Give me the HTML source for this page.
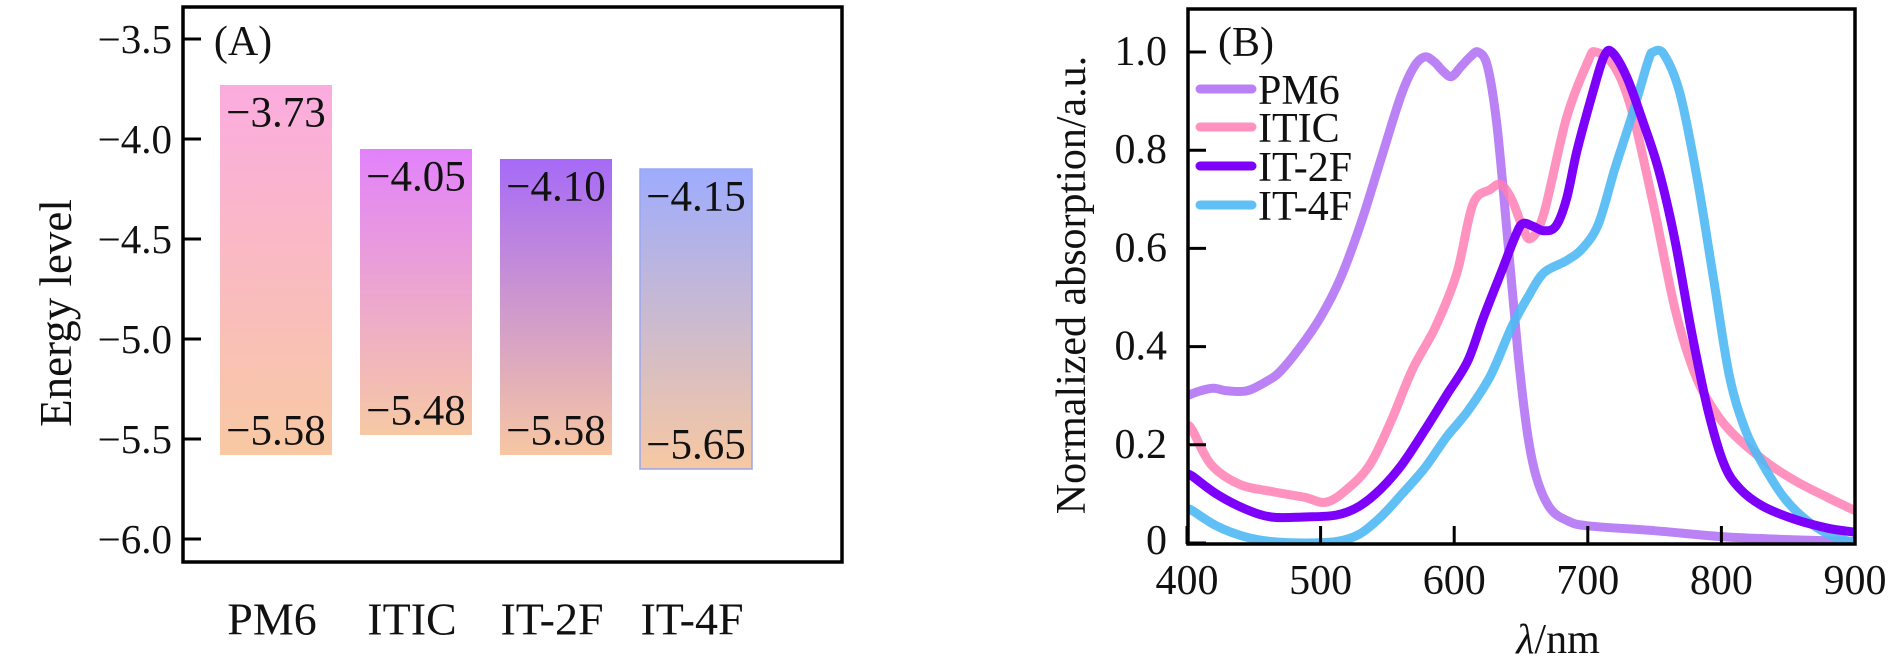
<!DOCTYPE html>
<html><head><meta charset="utf-8">
<style>
html,body{margin:0;padding:0;background:#fff;}
svg{display:block;font-family:"Liberation Serif",serif;}
</style></head>
<body>
<svg id="fig" width="1903" height="671" viewBox="0 0 1903 671" xmlns="http://www.w3.org/2000/svg">
<defs>
<linearGradient id="g0" x1="0" y1="0" x2="0" y2="1"><stop offset="0" stop-color="#fbacdf"/><stop offset="1" stop-color="#f8c9a3"/></linearGradient>
<linearGradient id="g1" x1="0" y1="0" x2="0" y2="1"><stop offset="0" stop-color="#e282fb"/><stop offset="1" stop-color="#f6c9a4"/></linearGradient>
<linearGradient id="g2" x1="0" y1="0" x2="0" y2="1"><stop offset="0" stop-color="#a66af7"/><stop offset="1" stop-color="#f7c7a3"/></linearGradient>
<linearGradient id="g3" x1="0" y1="0" x2="0" y2="1"><stop offset="0" stop-color="#9eacfd"/><stop offset="1" stop-color="#f7c8a2"/></linearGradient>
</defs>
<g id="panelA"></g>
<g id="panelB"></g>
</svg>
<script>
// Panel A data
const categories = ["PM6","ITIC","IT-2F","IT-4F"];
const lumoValues = [-3.73,-4.05,-4.10,-4.15];
const homoValues = [-5.58,-5.48,-5.58,-5.65];
const yTicksA = [-3.5,-4.0,-4.5,-5.0,-5.5,-6.0];
const yTickLabelsA = ["\u22123.5","\u22124.0","\u22124.5","\u22125.0","\u22125.5","\u22126.0"];

// Panel B data
const xTicksB = [400,500,600,700,800,900];
const yTicksB = [0,0.2,0.4,0.6,0.8,1.0];
const yTickLabelsB = ["0","0.2","0.4","0.6","0.8","1.0"];
const seriesNames = ["PM6","ITIC","IT-2F","IT-4F"];
const pm6Wl = [400,410,420,430,445,460,470,485,500,515,530,545,560,570,578,585,592,598,605,612,618,625,632,640,648,655,662,672,685,700,750,800,850,900];
const pm6Abs = [0.30,0.31,0.315,0.31,0.31,0.33,0.35,0.40,0.46,0.54,0.65,0.78,0.91,0.97,0.99,0.98,0.96,0.95,0.97,0.99,1.0,0.97,0.85,0.62,0.38,0.22,0.13,0.07,0.045,0.035,0.025,0.013,0.007,0.003];
const iticWl = [400,404,418,439,463,488,504,520,537,553,569,586,602,614,627,635,643,651,657,667,684,700,706,720,733,749,765,778,790,806,831,855,880,900];
const iticAbs = [0.24,0.23,0.16,0.12,0.105,0.093,0.083,0.11,0.16,0.25,0.355,0.44,0.55,0.69,0.72,0.73,0.70,0.645,0.62,0.67,0.865,0.98,1.0,0.97,0.88,0.69,0.48,0.36,0.29,0.23,0.17,0.127,0.092,0.066];
const it2fWl = [400,404,422,443,463,488,512,529,545,561,578,594,610,622,635,645,651,659,667,676,684,692,704,712,718,729,741,753,765,778,790,802,814,831,855,880,900];
const it2fAbs = [0.14,0.136,0.10,0.07,0.053,0.053,0.057,0.075,0.11,0.16,0.23,0.30,0.37,0.46,0.55,0.62,0.65,0.645,0.636,0.645,0.70,0.80,0.92,0.99,1.0,0.95,0.86,0.76,0.62,0.425,0.27,0.16,0.11,0.075,0.048,0.030,0.022];
const it4fWl = [400,404,422,443,463,488,512,529,545,561,578,594,610,627,643,655,667,684,696,708,720,733,745,749,757,769,782,794,806,818,831,847,863,880,896,900];
const it4fAbs = [0.07,0.066,0.035,0.013,0.003,0.0,0.003,0.018,0.053,0.10,0.153,0.215,0.268,0.34,0.44,0.50,0.55,0.575,0.60,0.65,0.76,0.87,0.98,1.0,0.995,0.915,0.74,0.54,0.34,0.23,0.16,0.092,0.048,0.018,0.003,0.0];

const NS="http://www.w3.org/2000/svg";
function mk(tag, attrs, parent){const e=document.createElementNS(NS,tag);for(const k in attrs)e.setAttribute(k,attrs[k]);parent.appendChild(e);return e;}

// ---------- Panel A ----------
const A = document.getElementById('panelA');
const aL=183,aR=842,aT=7,aB=562;
const yA = v => 39 + (-3.5 - v)*200;
const xA = i => 276 + i*140;
const barW = 112;
const grads=["url(#g0)","url(#g1)","url(#g2)","url(#g3)"];
categories.forEach((c,i)=>{
  const top=yA(lumoValues[i]), bot=yA(homoValues[i]);
  const r=mk('rect',{x:xA(i)-barW/2,y:top,width:barW,height:bot-top,fill:grads[i],stroke:i===3?'#9aa6ef':'none','stroke-width':1.5},A);
  
  
  const t1=mk('text',{x:xA(i),y:top+28,'font-size':43,'text-anchor':'middle','dominant-baseline':'central',fill:'#111'},A);
  t1.textContent='\u2212'+Math.abs(lumoValues[i]).toFixed(2);
  
  
  const t2=mk('text',{x:xA(i),y:bot-24,'font-size':43,'text-anchor':'middle','dominant-baseline':'central',fill:'#111'},A);
  t2.textContent='\u2212'+Math.abs(homoValues[i]).toFixed(2);
  
  
  const cl=mk('text',{x:xA(i)-4,y:619,'font-size':46,'text-anchor':'middle','dominant-baseline':'central',fill:'#111'},A);
  cl.textContent=c;
  
  
});
yTicksA.forEach((v,i)=>{
  const tk=mk('line',{x1:aL,x2:aL+18,y1:yA(v),y2:yA(v),stroke:'#000','stroke-width':3},A);
  
  
  const tl=mk('text',{x:172,y:yA(v),'font-size':41,'text-anchor':'end','dominant-baseline':'central',fill:'#111'},A);
  tl.textContent=yTickLabelsA[i];
  
  
});
const frA=mk('rect',{x:aL,y:aT,width:aR-aL,height:aB-aT,fill:'none',stroke:'#000','stroke-width':3.5},A);


const tA=mk('text',{x:243,y:42,'font-size':42,'text-anchor':'middle','dominant-baseline':'central',fill:'#111'},A);
tA.textContent='(A)';


const ytA=mk('text',{x:0,y:0,'font-size':45,'text-anchor':'middle','dominant-baseline':'central',fill:'#111',transform:'translate(56,313) rotate(-90)'},A);
ytA.textContent='Energy level';



// ---------- Panel B ----------
const B=document.getElementById('panelB');
const bL=1188,bR=1855,bT=9,bB=544;
const xB = v => 1187 + (v-400)*1.336;
const yB = v => 543 - v*491;
const clip=mk('clipPath',{id:'clipB'},B);
mk('rect',{x:bL,y:bT,width:bR-bL,height:bB-bT},clip);
const colors=['#b274f4','#ff7fb4','#7d00fb','#4fb9f4'];
const opac=[0.9,0.85,1,0.9];
const wls=[pm6Wl,iticWl,it2fWl,it4fWl], abss=[pm6Abs,iticAbs,it2fAbs,it4fAbs];
function smoothPath(pts){
  let d='M'+pts[0][0].toFixed(1)+','+pts[0][1].toFixed(1);
  for(let i=0;i<pts.length-1;i++){
    const p0=pts[Math.max(i-1,0)],p1=pts[i],p2=pts[i+1],p3=pts[Math.min(i+2,pts.length-1)];
    const c1x=p1[0]+(p2[0]-p0[0])/6,c1y=p1[1]+(p2[1]-p0[1])/6;
    const c2x=p2[0]-(p3[0]-p1[0])/6,c2y=p2[1]-(p3[1]-p1[1])/6;
    d+=' C'+c1x.toFixed(1)+','+c1y.toFixed(1)+' '+c2x.toFixed(1)+','+c2y.toFixed(1)+' '+p2[0].toFixed(1)+','+p2[1].toFixed(1);
  }
  return d;
}
const lineG=mk('g',{'clip-path':'url(#clipB)'},B);
[0,1,3,2].forEach(s=>{
  const pts=wls[s].map((w,j)=>[xB(w),yB(abss[s][j])]);
  const p=mk('path',{d:smoothPath(pts),fill:'none',stroke:colors[s],'stroke-width':9,'stroke-linejoin':'round','stroke-linecap':'round',opacity:opac[s]},lineG);
  
  
});
xTicksB.forEach(v=>{
  const tk=mk('line',{x1:xB(v),x2:xB(v),y1:bB,y2:bB-18,stroke:'#000','stroke-width':3},B);
  
  
  const tl=mk('text',{x:xB(v),y:581,'font-size':42,'text-anchor':'middle','dominant-baseline':'central',fill:'#111'},B);
  tl.textContent=String(v);
  
  
});
yTicksB.forEach((v,i)=>{
  const tk=mk('line',{x1:bL,x2:bL+18,y1:yB(v),y2:yB(v),stroke:'#000','stroke-width':3},B);
  
  
  const tl=mk('text',{x:1167,y:v===0?yB(v)-2:yB(v),'font-size':42,'text-anchor':'end','dominant-baseline':'central',fill:'#111'},B);
  tl.textContent=yTickLabelsB[i];
  
  
});
const frB=mk('rect',{x:bL,y:bT,width:bR-bL,height:bB-bT,fill:'none',stroke:'#000','stroke-width':3.5},B);


const tB=mk('text',{x:1246,y:43,'font-size':42,'text-anchor':'middle','dominant-baseline':'central',fill:'#111'},B);
tB.textContent='(B)';


const legY=[89,127,166,205];
seriesNames.forEach((n,s)=>{
  const g=mk('g',{},B);
  
  
  mk('line',{x1:1200,x2:1252,y1:legY[s],y2:legY[s],stroke:colors[s],'stroke-width':9,'stroke-linecap':'round',opacity:opac[s]},g);
  const t=mk('text',{x:1258,y:legY[s]+2,'font-size':42,'dominant-baseline':'central',fill:'#111'},g);
  t.textContent=n;
});
const xtB=mk('text',{x:1558,y:640,'font-size':42,'text-anchor':'middle','dominant-baseline':'central',fill:'#111'},B);
xtB.innerHTML='<tspan font-style="italic">λ</tspan>/nm';


const ytB=mk('text',{x:0,y:0,'font-size':42,'text-anchor':'middle','dominant-baseline':'central',fill:'#111',transform:'translate(1072,285) rotate(-90)'},B);
ytB.textContent='Normalized absorption/a.u.';


</script>
</body></html>
